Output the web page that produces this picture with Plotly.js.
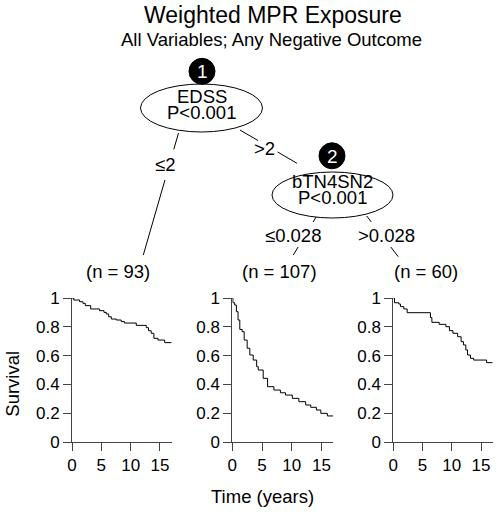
<!DOCTYPE html>
<html><head><meta charset="utf-8">
<script src="https://cdn.plot.ly/plotly-3.0.1.min.js"></script>
<style>html,body{margin:0;padding:0;background:#fff}</style>
</head><body><div id="chart" style="width:498px;height:512px"></div>
<script>
const W = 498, H = 512;

// ---- data ----
const terminalLabels = ['(n = 93)', '(n = 107)', '(n = 60)'];
const time1 = [0, 0.3, 1.3, 1.87, 2.27, 3.18, 4.7, 5.45, 5.85, 6.25, 6.7, 7.55, 8.4, 8.97, 10.96, 12.66, 13.05, 13.5, 13.96, 14.65, 15.8, 17];
const surv1 = [1, 0.986, 0.974, 0.963, 0.947, 0.924, 0.912, 0.900, 0.889, 0.870, 0.854, 0.847, 0.836, 0.826, 0.810, 0.794, 0.773, 0.755, 0.720, 0.708, 0.690, 0.690];
const time2 = [0, 0.1, 0.4, 0.69, 0.97, 1.26, 1.66, 2.0, 2.5, 2.95, 3.52, 4.1, 4.37, 5.2, 5.94, 7.0, 8.1, 8.95, 10.1, 11.2, 12.35, 13.2, 14.15, 14.9, 16.0, 17];
const surv2 = [1, 0.967, 0.951, 0.905, 0.847, 0.782, 0.766, 0.708, 0.651, 0.604, 0.569, 0.523, 0.500, 0.442, 0.384, 0.361, 0.342, 0.326, 0.303, 0.280, 0.257, 0.241, 0.222, 0.199, 0.181, 0.181];
const time3 = [0, 0.2, 0.95, 1.24, 1.8, 2.37, 6.35, 6.6, 7.85, 9.0, 9.6, 10.2, 11.0, 11.6, 12.0, 12.4, 12.7, 13.2, 13.75, 15.96, 17];
const surv3 = [1, 0.967, 0.958, 0.940, 0.924, 0.898, 0.864, 0.831, 0.817, 0.801, 0.773, 0.755, 0.731, 0.697, 0.674, 0.639, 0.604, 0.581, 0.569, 0.551, 0.551];
const xTickVals = [0, 5, 10, 15];
const yTickVals = [0, 0.2, 0.4, 0.6, 0.8, 1];
const yTickText = ['0', '0.2', '0.4', '0.6', '0.8', '1'];
const nodeIds = ['1', '2'];
const nodeVars = ['EDSS', 'bTN4SN2'];
const nodePvals = ['P&lt;0.001', 'P&lt;0.001'];
const edgeLabels = ['≤2', '&gt;2', '≤0.028', '&gt;0.028'];

// ---- layout helpers (pixel -> paper) ----
const FONT = 'Liberation Sans, Arial, Helvetica, sans-serif';
const px = x => x / W;
const py = y => 1 - y / H;

const panelX = [[72, 171.7], [232.3, 333.3], [393.3, 492.7]];
const panelY = [298, 442];

const axisLine = '#444';
const traces = [[time1, surv1], [time2, surv2], [time3, surv3]].map((d, i) => ({
  type: 'scatter', mode: 'lines', x: d[0], y: d[1],
  line: {shape: 'hv', color: '#000', width: 1},
  xaxis: i === 0 ? 'x' : 'x' + (i + 1), yaxis: i === 0 ? 'y' : 'y' + (i + 1),
  hoverinfo: 'skip'
}));

const layout = {
  width: W, height: H, margin: {l: 0, r: 0, t: 0, b: 0},
  paper_bgcolor: '#fff', plot_bgcolor: '#fff', showlegend: false, hovermode: false,
  font: {family: FONT, color: '#000'},
  shapes: [], annotations: []
};
panelX.forEach((pxr, i) => {
  const s = i === 0 ? '' : String(i + 1);
  layout['xaxis' + s] = {
    domain: [px(pxr[0]), px(pxr[1])], range: [0, 17], anchor: 'y' + s,
    showline: true, linecolor: axisLine, linewidth: 1, ticks: 'outside', ticklen: 8,
    tickcolor: axisLine, tickvals: xTickVals, showgrid: false, zeroline: false,
    tickfont: {size: 17, family: FONT, color: '#000'}, fixedrange: true
  };
  layout['yaxis' + s] = {
    domain: [py(panelY[1]), py(panelY[0])], range: [0, 1], anchor: 'x' + s,
    showline: true, linecolor: axisLine, linewidth: 1, ticks: 'outside', ticklen: 8,
    tickcolor: axisLine, tickvals: yTickVals, ticktext: yTickText, showgrid: false, zeroline: false,
    tickfont: {size: 17, family: FONT, color: '#000'}, fixedrange: true
  };
});

function ann(text, x, y, size, extra) {
  layout.annotations.push(Object.assign({
    text: text, x: px(x), y: py(y), xref: 'paper', yref: 'paper',
    showarrow: false, xanchor: 'center', yanchor: 'middle',
    font: {family: FONT, size: size, color: '#000'}
  }, extra || {}));
}

// titles
ann('Weighted MPR Exposure', 272.5, 15, 23);
ann('All Variables; Any Negative Outcome', 271, 39, 18.5);

// edges: straight lines with a gap around their labels
const edges = [
  {a: [178.5, 133], b: [143.3, 255], gap: [149.3, 180], lab: [165, 164]},
  {a: [240, 130], b: [297, 163.3], gap: [140.5, 152], lab: [264, 148]},
  {a: [316.7, 216], b: [293.3, 255], gap: [222, 247], lab: [292.7, 235]},
  {a: [366.7, 216], b: [398.3, 256.7], gap: [222, 247], lab: [386.7, 235]}
];
edges.forEach((e, i) => {
  const atY = y => e.a[0] + (e.b[0] - e.a[0]) * (y - e.a[1]) / (e.b[1] - e.a[1]);
  [[e.a[1], e.gap[0]], [e.gap[1], e.b[1]]].forEach(seg => {
    layout.shapes.push({type: 'line', xref: 'paper', yref: 'paper',
      x0: px(atY(seg[0])), y0: py(seg[0]), x1: px(atY(seg[1])), y1: py(seg[1]),
      line: {color: '#000', width: 1}});
  });
  ann(edgeLabels[i], e.lab[0], e.lab[1], 18.5);
});

// inner nodes
const nodes = [
  {cx: 201.5, cy: 108, rx: 61, ry: 24, bx: 202, by: 71.3, t1: 96, t2: 112.8},
  {cx: 332.5, cy: 195, rx: 60.5, ry: 23, bx: 332, by: 155.8, t1: 181, t2: 197.5}
];
nodes.forEach((n, i) => {
  layout.shapes.push({type: 'circle', xref: 'paper', yref: 'paper',
    x0: px(n.cx - n.rx), x1: px(n.cx + n.rx), y0: py(n.cy + n.ry), y1: py(n.cy - n.ry),
    fillcolor: '#fff', line: {color: '#000', width: 1}});
  layout.shapes.push({type: 'circle', xref: 'paper', yref: 'paper',
    x0: px(n.bx - 13), x1: px(n.bx + 13), y0: py(n.by + 13), y1: py(n.by - 13),
    fillcolor: '#000', line: {color: '#000', width: 1}});
  ann(nodeIds[i], n.bx, n.by + 0.5, 19, {font: {family: FONT, size: 19, color: '#fff'}});
  ann(nodeVars[i], n.cx, n.t1, 18.5);
  ann(nodePvals[i], n.cx, n.t2, 18.5);
});

// terminal labels
[117.8, 279.5, 425.8].forEach((x, i) => ann(terminalLabels[i], x, 271.7, 18.5));

// axis titles
ann('Survival', 11.7, 384, 18.5, {textangle: -90});
ann('Time (years)', 262.5, 496.7, 18.5);

Plotly.newPlot('chart', traces, layout, {displayModeBar: false, staticPlot: true});
</script></body></html>
